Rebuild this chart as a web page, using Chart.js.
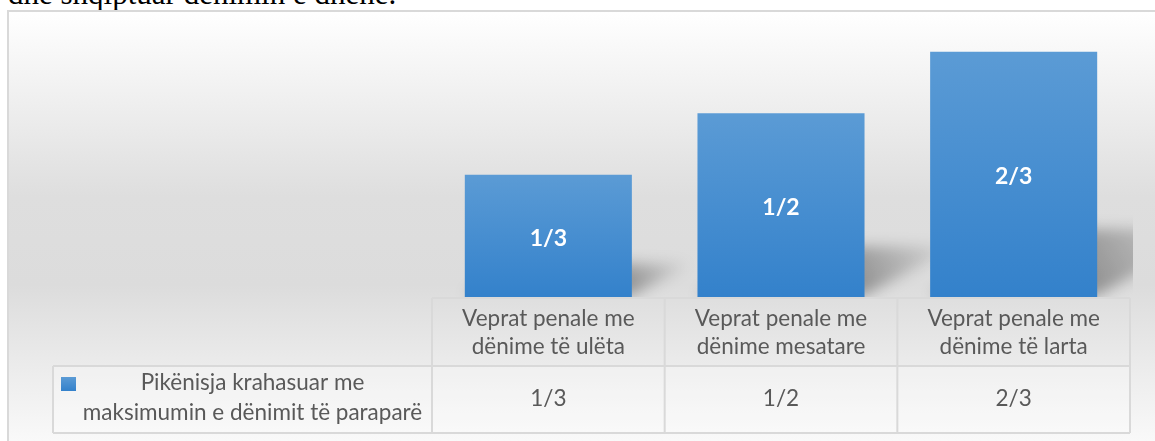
<!DOCTYPE html>
<html>
<head>
<meta charset="utf-8">
<script src="https://cdn.jsdelivr.net/npm/chart.js@4"></script>
<style>
  html, body { margin: 0; padding: 0; overflow: hidden; background: #fff; }
  #caption {
    position: absolute; left: 8px; top: -24px;
    font: 31px "Liberation Serif", "Times New Roman", serif; color: #000;
    white-space: nowrap;
  }
  #frame {
    position: absolute; left: 7px; top: 10px; width: 1160px; height: 440px;
    border-left: 2px solid #d9d9d9; border-top: 2px solid #d9d9d9;
    background: linear-gradient(to bottom, #ffffff 0%, #f4f4f4 14%, #dedede 42%, #dcdcdc 62%, #ebebeb 80%, #fbfbfb 100%);
  }
  #chart { display: block; }
</style>
</head>
<body>
<div id="caption">dhe shqiptuar dënimin e dhënë.</div>
<div id="frame"><canvas id="chart" width="1146" height="429"></canvas></div>
<script>
const categories = [
  ['Veprat penale me', 'dënime të ulëta'],
  ['Veprat penale me', 'dënime mesatare'],
  ['Veprat penale me', 'dënime të larta']
];
const seriesName = ['Pikënisja krahasuar me', 'maksimumin e dënimit të paraparë'];
const values = [1 / 3, 1 / 2, 2 / 3];
const valueLabels = ['1/3', '1/2', '2/3'];

const TEXT = '#595959';
const LINE = '#d9d9d9';
const FONT = 'Lato, "Open Sans", sans-serif';

const barGradient = (ctx, top, bottom) => {
  const g = ctx.createLinearGradient(0, top, 0, bottom);
  g.addColorStop(0, '#5b9bd5');
  g.addColorStop(1, '#3381cb');
  return g;
};

// perspective shadow behind each bar
const shadowPlugin = {
  id: 'barShadow',
  beforeDatasetsDraw(chart) {
    const { ctx, chartArea } = chart;
    const meta = chart.getDatasetMeta(0);
    ctx.save();
    ctx.beginPath();
    ctx.rect(chartArea.left, chartArea.top, chartArea.right - chartArea.left + 3, chartArea.bottom - chartArea.top);
    ctx.clip();
    ctx.filter = 'blur(7px)';
    meta.data.forEach(bar => {
      const h = bar.base - bar.y;
      const left = bar.x - bar.width / 2;
      const right = bar.x + bar.width / 2;
      const s = h * 0.5, r = h * 0.28;
      const g = ctx.createLinearGradient(right, bar.base, right + s, bar.base - r);
      g.addColorStop(0, 'rgba(0,0,0,0.34)');
      g.addColorStop(1, 'rgba(0,0,0,0)');
      ctx.fillStyle = g;
      ctx.beginPath();
      ctx.moveTo(left, bar.base - 3);
      ctx.lineTo(right, bar.base - 3);
      ctx.lineTo(right + s, bar.base - r);
      ctx.lineTo(left + s, bar.base - r);
      ctx.closePath();
      ctx.fill();
    });
    ctx.restore();
  },
  afterDatasetsDraw(chart) {
    const { ctx } = chart;
    const meta = chart.getDatasetMeta(0);
    ctx.save();
    ctx.fillStyle = '#ffffff';
    ctx.font = 'bold 23px ' + FONT;
    ctx.textAlign = 'center';
    ctx.textBaseline = 'middle';
    meta.data.forEach((bar, i) => {
      ctx.fillText(valueLabels[i], bar.x, (bar.y + bar.base) / 2 + 2);
    });
    ctx.restore();
  }
};

// data table under the plot
const tablePlugin = {
  id: 'dataTable',
  afterDraw(chart) {
    const { ctx, chartArea } = chart;
    const x = chart.scales.x;
    const n = categories.length;
    const colW = (x.right - x.left) / n;
    const top = chartArea.bottom;
    const mid = top + 68;
    const bottom = mid + 67;
    const legendLeft = 44;

    ctx.save();
    ctx.fillStyle = 'rgba(255,255,255,0.25)';
    ctx.fillRect(legendLeft, mid, x.right - legendLeft, bottom - mid);

    ctx.strokeStyle = LINE;
    ctx.lineWidth = 2;
    ctx.beginPath();
    ctx.moveTo(x.left, top); ctx.lineTo(x.right, top);
    ctx.moveTo(legendLeft, mid); ctx.lineTo(x.right, mid);
    ctx.moveTo(legendLeft, bottom); ctx.lineTo(x.right, bottom);
    ctx.moveTo(legendLeft, mid); ctx.lineTo(legendLeft, bottom);
    for (let i = 0; i <= n; i++) {
      const px = x.left + i * colW;
      ctx.moveTo(px, top); ctx.lineTo(px, bottom);
    }
    ctx.stroke();

    ctx.fillStyle = TEXT;
    ctx.font = '22.5px ' + FONT;
    ctx.textAlign = 'center';
    ctx.textBaseline = 'middle';
    categories.forEach((lines, i) => {
      const cx = x.getPixelForValue(i);
      ctx.fillText(lines[0], cx, top + 21);
      ctx.fillText(lines[1], cx, top + 49);
      ctx.fillText(valueLabels[i], cx, mid + 33);
    });

    const lx = (legendLeft + x.left) / 2 + 10;
    ctx.fillText(seriesName[0], lx, mid + 17);
    ctx.fillText(seriesName[1], lx, mid + 47);

    ctx.fillStyle = barGradient(ctx, mid + 11, mid + 25);
    ctx.fillRect(legendLeft + 8, mid + 11, 15, 14);
    ctx.restore();
  }
};

new Chart(document.getElementById('chart'), {
  type: 'bar',
  data: {
    labels: categories,
    datasets: [{
      label: seriesName.join(' '),
      data: values,
      backgroundColor: (c) => {
        const chart = c.chart;
        if (!chart.chartArea || c.raw === undefined) return '#4a8fd2';
        const y = chart.scales.y;
        return barGradient(chart.ctx, y.getPixelForValue(c.raw), y.getPixelForValue(0));
      },
      borderWidth: 0,
      barPercentage: 0.718,
      categoryPercentage: 1
    }]
  },
  options: {
    responsive: false,
    animation: false,
    layout: { padding: { left: 423, right: 25, top: 20, bottom: 143 } },
    scales: {
      x: { display: false },
      y: { display: false, min: 0, max: 0.72 }
    },
    plugins: {
      legend: { display: false },
      tooltip: { enabled: false }
    }
  },
  plugins: [shadowPlugin, tablePlugin]
});
</script>
</body>
</html>
